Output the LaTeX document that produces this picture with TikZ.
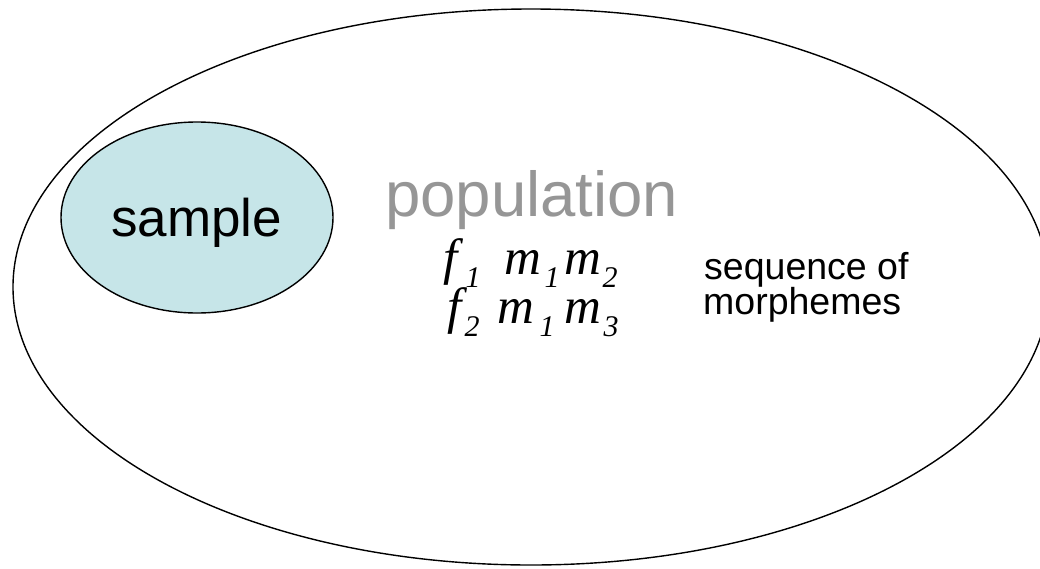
\documentclass[tikz,border=0pt]{standalone}
\usepackage{fontspec}
\setmainfont{Liberation Serif}
\newfontfamily\arialfont{Liberation Sans}
\usetikzlibrary{shapes.geometric}
\definecolor{samplefill}{RGB}{198,229,232}
\definecolor{popgray}{RGB}{150,150,150}
\newcommand{\gl}[2]{\rlap{\hspace{#1pt}#2}}
\newcommand{\mainsz}{\fontsize{51pt}{51pt}\selectfont\itshape}
\newcommand{\subsc}[1]{\raisebox{-13pt}{\fontsize{30pt}{30pt}\selectfont\itshape #1}}
\begin{document}
\begin{tikzpicture}[x=1pt,y=-1pt,
  outline/.style={ellipse, draw=black, line width=1.4pt, inner sep=0pt},
  txt/.style={inner sep=0pt, anchor=base west}]
\useasboundingbox (0,0) rectangle (1040,568);
\clip (0,0) rectangle (1040,568);
\node[outline, minimum width=1036pt, minimum height=556pt] (population) at (531,287) {};
\node[outline, fill=samplefill, minimum width=272pt, minimum height=191pt] (sample) at (197,217.5) {};
\node[inner sep=0pt, anchor=base, font=\arialfont\fontsize{53pt}{53pt}\selectfont] (sampletext) at (196.5,236) {sample};
\node[txt, text=popgray, font=\arialfont\fontsize{63.5pt}{63.5pt}\selectfont] (poptext) at (385,216) {population};
\node[txt] (row1) at (440,274) {\mainsz\gl{3}{f}\gl{25}{\subsc{1}}\gl{64}{m}\gl{104}{\subsc{1}}\gl{124}{m}\gl{162}{\subsc{2}}};
\node[txt] (row2) at (440,323) {\mainsz\gl{7}{f}\gl{24}{\subsc{2}}\gl{57}{m}\gl{99}{\subsc{1}}\gl{124}{m}\gl{163}{\subsc{3}}};
\node[txt, font=\arialfont\fontsize{37.5pt}{37.5pt}\selectfont] (seq1) at (704,279) {sequence of};
\node[txt, font=\arialfont\fontsize{37.5pt}{37.5pt}\selectfont] (seq2) at (703,314) {morphemes};
\end{tikzpicture}
\end{document}
